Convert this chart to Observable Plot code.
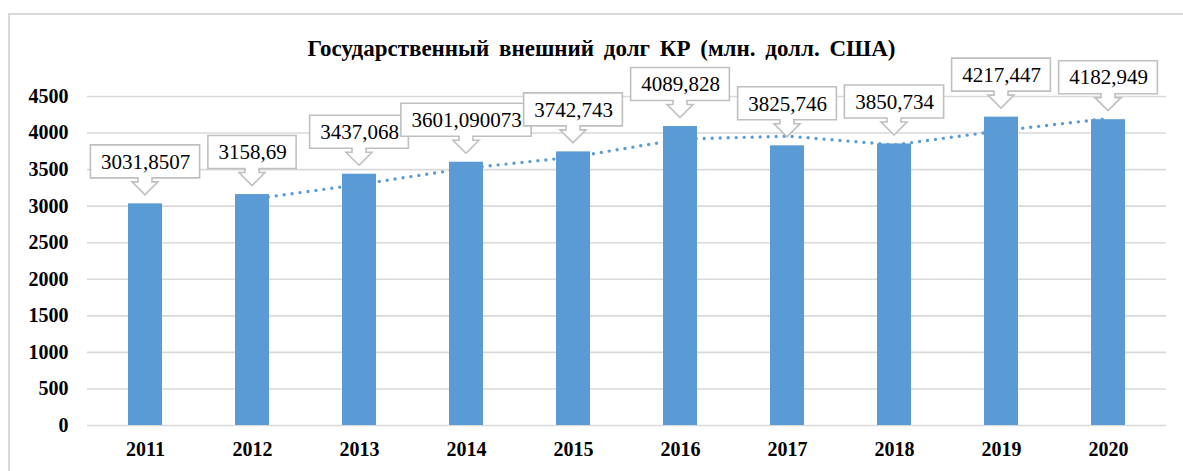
<!DOCTYPE html>
<html>
<head>
<meta charset="utf-8">
<script src="https://cdn.jsdelivr.net/npm/d3@7"></script>
<script src="https://cdn.jsdelivr.net/npm/@observablehq/plot@0.6"></script>
<style>
  html, body { margin: 0; padding: 0; background: #fff; }
  #wrap { position: relative; width: 1183px; height: 471px; overflow: hidden; font-family: "Liberation Serif", "Times New Roman", serif; }
  #frame { position: absolute; left: 8px; top: 13px; width: 1300px; height: 600px; border-left: 2px solid #d9d9d9; border-top: 2px solid #d9d9d9; box-sizing: border-box; }
  #title { position: absolute; left: 0; width: 1203px; top: 37px; line-height: 23px; text-align: center; font-weight: bold; font-size: 23px; word-spacing: 4px; color: #000; white-space: nowrap; }
  #chart { position: absolute; left: 0; top: 0; }
</style>
</head>
<body>
<div id="wrap">
  <div id="frame"></div>
  <div id="chart"></div>
  <div id="title">Государственный внешний долг КР (млн. долл. США)</div>
</div>
<script>
const years = ["2011", "2012", "2013", "2014", "2015", "2016", "2017", "2018", "2019", "2020"];
const values = [3031.8507, 3158.69, 3437.068, 3601.090073, 3742.743, 4089.828, 3825.746, 3850.734, 4217.447, 4182.949];
const labels = ["3031,8507", "3158,69", "3437,068", "3601,090073", "3742,743", "4089,828", "3825,746", "3850,734", "4217,447", "4182,949"];
const yTicks = [0, 500, 1000, 1500, 2000, 2500, 3000, 3500, 4000, 4500];

const data = years.map((year, i) => ({year, value: values[i], label: labels[i]}));
const blue = "#5B9BD5";

const plot = Plot.plot({
  width: 1183,
  height: 471,
  marginLeft: 87,
  marginRight: 17,
  marginTop: 96,
  marginBottom: 46,
  style: {fontFamily: "'Liberation Serif', 'Times New Roman', serif", background: "transparent", color: "#000"},
  x: {type: "band", domain: years, paddingInner: 0.685, paddingOuter: 0.3425, label: null},
  y: {domain: [0, 4500], label: null},
  marks: [
    Plot.gridY(yTicks, {stroke: "#d9d9d9", strokeOpacity: 1, strokeWidth: 1.6}),
    Plot.axisY(yTicks, {tickSize: 0, tickPadding: 19, fontSize: 20, fontWeight: "bold", label: null, tickFormat: d => String(d)}),
    Plot.axisX({tickSize: 0, tickPadding: 16, fontSize: 20, fontWeight: "bold", label: null}),
    Plot.lineY(data, Plot.windowY({k: 2, anchor: "end", reduce: "mean", strict: true}, {
      x: "year", y: "value", stroke: blue, strokeWidth: 3.4, strokeDasharray: "0 8", strokeLinecap: "round"
    })),
    Plot.barY(data, {x: "year", y: "value", fill: blue}),
    Plot.text(data, {x: "year", y: "value", text: "label", dy: -42, fontSize: 21, fill: "#000", className: "callout-label"})
  ]
});

document.getElementById("chart").appendChild(plot);

// Callout boxes behind the labels, positioned with Plot's own scales
const xs = plot.scale("x");
const ys = plot.scale("y");
const labelG = plot.querySelector("g.callout-label") || plot.querySelector(".callout-label");
const texts = labelG ? Array.from(labelG.querySelectorAll("text")) : [];
const ns = "http://www.w3.org/2000/svg";
const boxG = document.createElementNS(ns, "g");
labelG.parentNode.insertBefore(boxG, labelG);
data.forEach((d, i) => {
  const t = texts[i];
  const w = t ? t.getBBox().width : 90;
  const cx = xs.apply(d.year) + xs.bandwidth / 2;
  const top = ys.apply(d.value);
  const cy = top - 42;
  const hw = w / 2 + 10;
  const y0 = cy - 16.5, y1 = cy + 16.5;
  const stem = 7, head = 13;
  const ys1 = y1 + 4, tip = top - 8.5;
  const p = [
    [cx - hw, y0], [cx + hw, y0], [cx + hw, y1], [cx + stem, y1], [cx + stem, ys1],
    [cx + head, ys1], [cx, tip], [cx - head, ys1], [cx - stem, ys1], [cx - stem, y1],
    [cx - hw, y1]
  ];
  const path = document.createElementNS(ns, "path");
  path.setAttribute("d", "M" + p.map(q => q.join(",")).join("L") + "Z");
  path.setAttribute("fill", "#fff");
  path.setAttribute("stroke", "#bfbfbf");
  path.setAttribute("stroke-width", "1.6");
  path.setAttribute("stroke-linejoin", "miter");
  boxG.appendChild(path);
});
</script>
</body>
</html>
